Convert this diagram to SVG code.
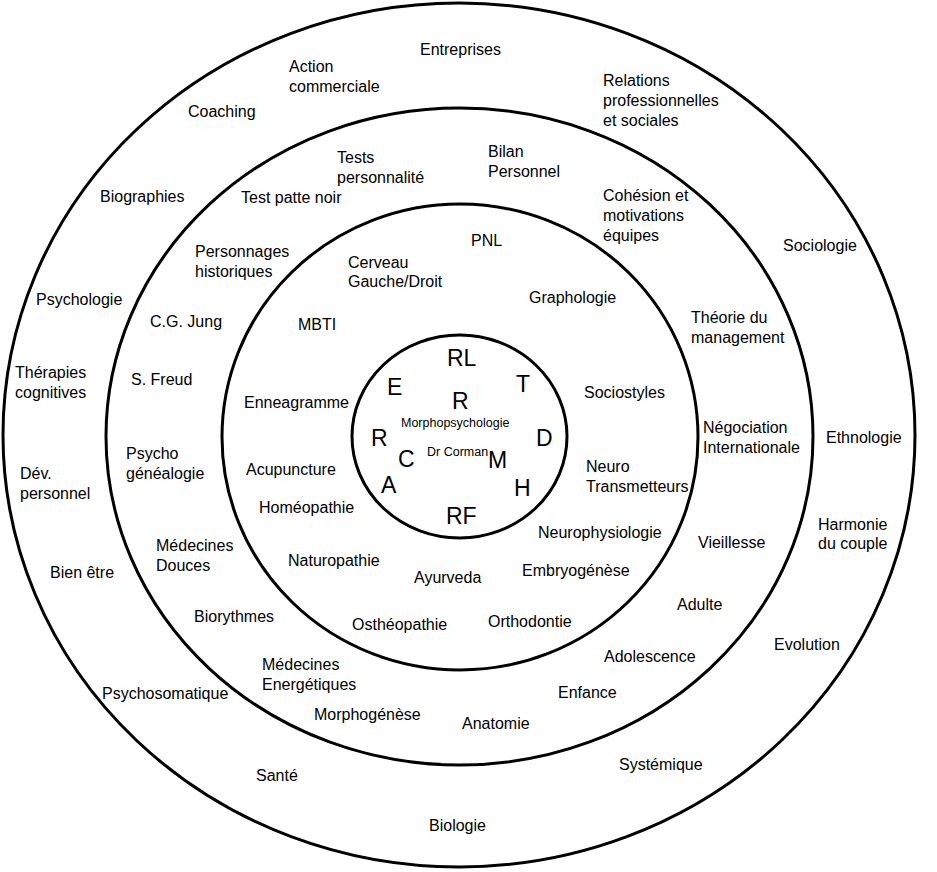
<svg xmlns="http://www.w3.org/2000/svg" width="937" height="872" viewBox="0 0 937 872">
<style>
.ring{fill:none;stroke:#000;stroke-width:3}
text{font-family:"Liberation Sans",Arial,sans-serif;fill:#000}
.t{font-size:16px}
.big{font-size:23px}
.sm{font-size:12.5px}
</style>
<rect width="937" height="872" fill="#fff"/>
<g id="rings">
<ellipse id="ring-outer" class="ring" cx="459" cy="435" rx="456" ry="432"/>
<ellipse id="ring-2" class="ring" cx="459.5" cy="436.5" rx="353.5" ry="328.5"/>
<ellipse id="ring-3" class="ring" cx="460" cy="437" rx="238" ry="233"/>
<ellipse id="ring-core" class="ring" cx="459.5" cy="436.5" rx="107.5" ry="101.5"/>
</g>
<g id="outer-ring-labels" class="t">
<g id="n-entreprises"><text class="t" x="420" y="55">Entreprises</text></g>
<g id="n-action"><text class="t" x="289" y="72">Action</text><text class="t" x="289" y="92">commerciale</text></g>
<g id="n-relations"><text class="t" x="603" y="86">Relations</text><text class="t" x="603" y="106">professionnelles</text><text class="t" x="603" y="126">et sociales</text></g>
<g id="n-coaching"><text class="t" x="188" y="117">Coaching</text></g>
<g id="n-biographies"><text class="t" x="100" y="202">Biographies</text></g>
<g id="n-sociologie"><text class="t" x="783" y="251">Sociologie</text></g>
<g id="n-psychologie"><text class="t" x="36" y="305">Psychologie</text></g>
<g id="n-therapies"><text class="t" x="15" y="378">Thérapies</text><text class="t" x="15" y="398">cognitives</text></g>
<g id="n-ethnologie"><text class="t" x="826" y="443">Ethnologie</text></g>
<g id="n-dev"><text class="t" x="20" y="479">Dév.</text><text class="t" x="20" y="499">personnel</text></g>
<g id="n-harmonie"><text class="t" x="818" y="530">Harmonie</text><text class="t" x="818" y="549">du couple</text></g>
<g id="n-bienetre"><text class="t" x="50" y="578">Bien être</text></g>
<g id="n-evolution"><text class="t" x="774" y="650">Evolution</text></g>
<g id="n-psychosomatique"><text class="t" x="102" y="699">Psychosomatique</text></g>
<g id="n-systemique"><text class="t" x="619" y="770">Systémique</text></g>
<g id="n-sante"><text class="t" x="256" y="781">Santé</text></g>
<g id="n-biologie"><text class="t" x="429" y="831">Biologie</text></g>
</g>
<g id="ring2-labels">
<g id="n-tests"><text class="t" x="337" y="163">Tests</text><text class="t" x="337" y="183">personnalité</text></g>
<g id="n-bilan"><text class="t" x="488" y="157">Bilan</text><text class="t" x="488" y="177">Personnel</text></g>
<g id="n-cohesion"><text class="t" x="603" y="201">Cohésion et</text><text class="t" x="603" y="221">motivations</text><text class="t" x="603" y="241">équipes</text></g>
<g id="n-testpatte"><text class="t" x="241" y="203">Test patte noir</text></g>
<g id="n-personnages"><text class="t" x="195" y="257">Personnages</text><text class="t" x="195" y="277">historiques</text></g>
<g id="n-theorie"><text class="t" x="691" y="323">Théorie du</text><text class="t" x="691" y="343">management</text></g>
<g id="n-jung"><text class="t" x="150" y="327">C.G. Jung</text></g>
<g id="n-freud"><text class="t" x="131" y="385">S. Freud</text></g>
<g id="n-negociation"><text class="t" x="703" y="433">Négociation</text><text class="t" x="703" y="453">Internationale</text></g>
<g id="n-psychogen"><text class="t" x="126" y="459">Psycho</text><text class="t" x="126" y="479">généalogie</text></g>
<g id="n-vieillesse"><text class="t" x="698" y="548">Vieillesse</text></g>
<g id="n-medecines-douces"><text class="t" x="156" y="551">Médecines</text><text class="t" x="156" y="571">Douces</text></g>
<g id="n-adulte"><text class="t" x="677" y="610">Adulte</text></g>
<g id="n-biorythmes"><text class="t" x="194" y="622">Biorythmes</text></g>
<g id="n-adolescence"><text class="t" x="604" y="662">Adolescence</text></g>
<g id="n-medecines-energ"><text class="t" x="262" y="670">Médecines</text><text class="t" x="262" y="690">Energétiques</text></g>
<g id="n-enfance"><text class="t" x="558" y="698">Enfance</text></g>
<g id="n-morphogenese"><text class="t" x="314" y="720">Morphogénèse</text></g>
<g id="n-anatomie"><text class="t" x="462" y="729">Anatomie</text></g>
</g>
<g id="ring3-labels">
<g id="n-pnl"><text class="t" x="471" y="246">PNL</text></g>
<g id="n-cerveau"><text class="t" x="348" y="268">Cerveau</text><text class="t" x="348" y="287">Gauche/Droit</text></g>
<g id="n-graphologie"><text class="t" x="529" y="303">Graphologie</text></g>
<g id="n-mbti"><text class="t" x="298" y="330">MBTI</text></g>
<g id="n-sociostyles"><text class="t" x="584" y="398">Sociostyles</text></g>
<g id="n-enneagramme"><text class="t" x="244" y="408">Enneagramme</text></g>
<g id="n-neuro"><text class="t" x="586" y="472">Neuro</text><text class="t" x="586" y="492">Transmetteurs</text></g>
<g id="n-acupuncture"><text class="t" x="246" y="475">Acupuncture</text></g>
<g id="n-homeopathie"><text class="t" x="259" y="513">Homéopathie</text></g>
<g id="n-neurophysio"><text class="t" x="538" y="538">Neurophysiologie</text></g>
<g id="n-naturopathie"><text class="t" x="288" y="566">Naturopathie</text></g>
<g id="n-embryogenese"><text class="t" x="522" y="576">Embryogénèse</text></g>
<g id="n-ayurveda"><text class="t" x="414" y="583">Ayurveda</text></g>
<g id="n-orthodontie"><text class="t" x="488" y="627">Orthodontie</text></g>
<g id="n-osteopathie"><text class="t" x="352" y="630">Osthéopathie</text></g>
</g>
<g id="core-labels">
<g id="n-RL"><text class="big" x="447" y="366">RL</text></g>
<g id="n-E"><text class="big" x="387" y="395">E</text></g>
<g id="n-T"><text class="big" x="516" y="392">T</text></g>
<g id="n-R1"><text class="big" x="452" y="409">R</text></g>
<g id="n-morpho"><text class="sm" x="401" y="427">Morphopsychologie</text></g>
<g id="n-R2"><text class="big" x="371" y="446">R</text></g>
<g id="n-D"><text class="big" x="536" y="446">D</text></g>
<g id="n-corman"><text class="sm" x="427" y="456">Dr Corman</text></g>
<g id="n-C"><text class="big" x="398" y="467">C</text></g>
<g id="n-M"><text class="big" x="488" y="468">M</text></g>
<g id="n-A"><text class="big" x="381" y="493">A</text></g>
<g id="n-H"><text class="big" x="514" y="496">H</text></g>
<g id="n-RF"><text class="big" x="446" y="524">RF</text></g>
</g>
<g id="connectors"/>
</svg>
